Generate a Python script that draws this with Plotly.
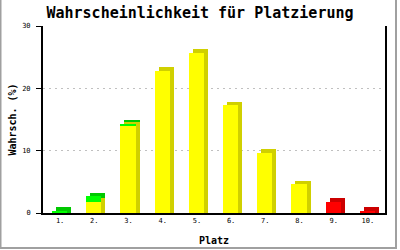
import plotly.graph_objects as go

# ---- data ----
places = [1, 2, 3, 4, 5, 6, 7, 8, 9, 10]
tick_labels = ["1.", "2.", "3.", "4.", "5.", "6.", "7.", "8.", "9.", "10."]
yellow_vals = [0, 1.8, 14.1, 22.8, 25.7, 17.3, 9.7, 4.65, 0, 0]
green_vals = [0.4, 0.9, 0.2, 0, 0, 0, 0, 0, 0, 0]
red_vals = [0, 0, 0, 0, 0, 0, 0, 0, 1.8, 0.35]

title = "Wahrscheinlichkeit für Platzierung"
x_title = "Platz"
y_title = "Wahrsch. (%)"

# ---- styling ----
FONT = "DejaVu Sans Mono"
W, H = 400, 250
ML, MR, MT, MB = 43, 15, 26, 37
PW, PH = W - ML - MR, H - MT - MB
Y_MAX = 30
BAR_W = 0.44
BAR_OFF = -0.235
DX = 4 / (PW / 10)          # depth in x (data units)
DY = 3.5 / (PH / Y_MAX)     # depth in y (data units)

series = [
    (yellow_vals, "#ffff00", "#d0d000"),
    (green_vals, "#00ff00", "#00c800"),
    (red_vals, "#ff0000", "#cc0000"),
]

fig = go.Figure()

cum = [0.0] * len(places)
shadows, fronts = [], []
for vals, front_c, dark_c in series:
    fx, fy, fb, sx, sy, sb = [], [], [], [], [], []
    for i, v in enumerate(vals):
        if v <= 0:
            continue
        b = cum[i]
        fx.append(places[i]); fy.append(v); fb.append(b)
        s_bottom = b + DY if b > 0 else 0.0
        s_top = b + v + DY
        sx.append(places[i]); sy.append(s_top - s_bottom); sb.append(s_bottom)
        cum[i] += v
    shadows.append(go.Bar(x=sx, y=sy, base=sb, width=BAR_W, offset=BAR_OFF + DX,
                          marker=dict(color=dark_c, line=dict(width=0)),
                          showlegend=False, hoverinfo="skip"))
    fronts.append(go.Bar(x=fx, y=fy, base=fb, width=BAR_W, offset=BAR_OFF,
                         marker=dict(color=front_c, line=dict(width=0)),
                         showlegend=False))

for t in shadows + fronts:
    fig.add_trace(t)

fig.update_layout(
    width=W, height=H,
    margin=dict(l=ML, r=MR, t=MT, b=MB, pad=0),
    paper_bgcolor="white", plot_bgcolor="white",
    barmode="overlay", bargap=0,
    font=dict(family=FONT, color="black"),
    title=dict(text="<b>" + title + "</b>", x=0.5, xanchor="center",
               xref="container", y=1 - 13 / H, yref="container", yanchor="middle",
               font=dict(size=15, family=FONT)),
    xaxis=dict(range=[0.5, 10.5], tickmode="array", tickvals=places,
               ticktext=tick_labels, showgrid=False, zeroline=False,
               showline=True, linecolor="black", linewidth=2, ticks="",
               tickfont=dict(size=7, family=FONT),
               title=dict(text="<b>" + x_title + "</b>", font=dict(size=10, family=FONT),
                          standoff=13),
               automargin=False, fixedrange=True),
    yaxis=dict(range=[0, Y_MAX], tickvals=[0, 10, 20, 30], showgrid=True,
               gridcolor="#c0c0c0", griddash="2px,4px", gridwidth=1,
               zeroline=False, showline=True, mirror=True, linecolor="black",
               linewidth=2, ticks="outside", ticklen=5, tickcolor="black",
               tickwidth=1, tickfont=dict(size=7, family=FONT),
               ticklabelstandoff=4,
               title=dict(text="<b>" + y_title + "</b>", font=dict(size=10, family=FONT),
                          standoff=4),
               automargin=False, fixedrange=True),
)

# outer frame (left, bottom, right) in paper coordinates
def px(xp):
    return (xp - ML) / PW

def py(yp):
    return (H - MB - yp) / PH

fig.add_shape(type="path", xref="paper", yref="paper",
              path=f"M {px(0.5)},{py(0)} L {px(0.5)},{py(248)} L {px(396)},{py(248)} L {px(396)},{py(0)}",
              line=dict(color="#a0a0a0", width=2), layer="above")

fig.write_html("out.html")
